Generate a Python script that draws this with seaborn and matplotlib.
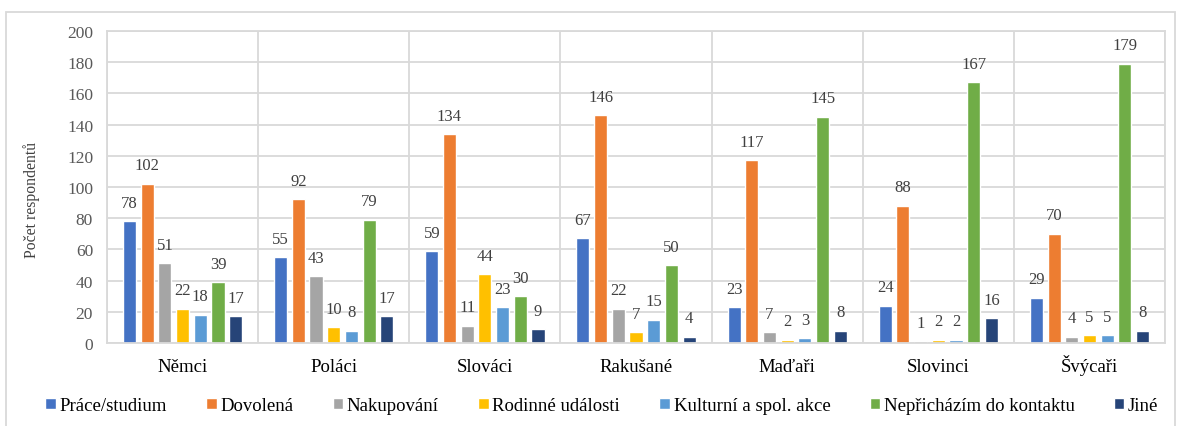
import matplotlib
matplotlib.use("Agg")
import matplotlib.pyplot as plt
import seaborn as sns
import pandas as pd
from matplotlib.patches import Rectangle

categories = ["Němci", "Poláci", "Slováci", "Rakušané", "Maďaři", "Slovinci", "Švýcaři"]
series = ["Práce/studium", "Dovolená", "Nakupování", "Rodinné události",
          "Kulturní a spol. akce", "Nepřicházím do kontaktu", "Jiné"]
prace = [78, 55, 59, 67, 23, 24, 29]
dovolena = [102, 92, 134, 146, 117, 88, 70]
nakupovani = [51, 43, 11, 22, 7, 1, 4]
rodinne = [22, 10, 44, 7, 2, 2, 5]
kulturni = [18, 8, 23, 15, 3, 2, 5]
neprichazim = [39, 79, 30, 50, 145, 167, 179]
jine = [17, 17, 9, 4, 8, 16, 8]
colors = ["#4472C4", "#ED7D31", "#A5A5A5", "#FFC000", "#5B9BD5", "#70AD47", "#264478"]

values = [prace, dovolena, nakupovani, rodinne, kulturni, neprichazim, jine]
rows = []
for s, vals in zip(series, values):
    for c, v in zip(categories, vals):
        rows.append({"Národnost": c, "Důvod": s, "Počet": v})
df = pd.DataFrame(rows)

sns.set_theme(style="white")
plt.rcParams["font.family"] = ["Liberation Serif", "DejaVu Serif"]

fig = plt.figure(figsize=(11.81, 4.27), dpi=100)
ax = fig.add_axes([0.0906, 0.1944, 0.8959, 0.7306])

sns.barplot(data=df, x="Národnost", y="Počet", hue="Důvod", order=categories,
            hue_order=series, palette=colors, width=0.82, gap=0.26,
            saturation=1, ax=ax, legend=True)

for cont in ax.containers:
    ax.bar_label(cont, padding=7.5, fontsize=12, color="#404040")

ax.set_ylim(0, 200)
ax.set_yticks(range(0, 201, 20))
ax.set_xlim(-0.5, 6.5)
ax.set_xticks([x - 0.5 for x in range(8)], minor=True)
ax.grid(axis="y", which="major", color="#d9d9d9", linewidth=1.3)
ax.grid(axis="x", which="minor", color="#d9d9d9", linewidth=1.3)
ax.grid(axis="x", which="major", visible=False)
ax.set_axisbelow(True)
for sp in ax.spines.values():
    sp.set_color("#d9d9d9")
    sp.set_linewidth(1.3)
ax.tick_params(axis="x", which="both", length=0, labelsize=13.5, colors="#000000", pad=20.5)
ax.tick_params(axis="y", length=0, labelsize=12.5, colors="#595959", pad=10)
for lbl in ax.get_xticklabels():
    lbl.set_verticalalignment("baseline")
ax.set_xlabel("")
ax.set_ylabel("Počet respondentů", fontsize=11.3, color="#404040")
ax.yaxis.set_label_coords(-0.063, 0.4615)

handles, labels = ax.get_legend_handles_labels()
ax.legend(handles, labels, loc="center", bbox_to_anchor=(0.5097, 0.047),
          bbox_transform=fig.transFigure, ncol=7, frameon=False, fontsize=13.5,
          handlelength=0.55, handleheight=0.55, handletextpad=0.2, columnspacing=2.1,
          labelcolor="#000000")

fig.patches.append(Rectangle((6 / 1181, -0.01), 1169 / 1181, 1 - 13 / 427 + 0.01,
                             transform=fig.transFigure, fill=False,
                             edgecolor="#d9d9d9", linewidth=1.3))

fig.savefig("out.png", dpi=100)
